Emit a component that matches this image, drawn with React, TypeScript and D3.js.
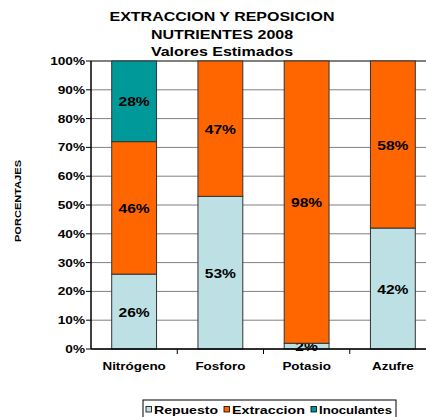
import React from "react";
import * as d3 from "d3";

const categories = ["Nitrógeno", "Fosforo", "Potasio", "Azufre"];
const seriesNames = ["Repuesto", "Extraccion", "Inoculantes"];
const repuesto = [26, 53, 2, 42];
const extraccion = [46, 47, 98, 58];
const inoculantes = [28, 0, 0, 0];
const yTicks = [0, 10, 20, 30, 40, 50, 60, 70, 80, 90, 100];
const colors = ["#BCE0E3", "#FF6600", "#009999"];
const titleLines = ["EXTRACCION Y REPOSICION", "NUTRIENTES 2008", "Valores Estimados"];

const W = 426, H = 417;
const plot = { left: 91, top: 61, right: 436, bottom: 349 };
const font = "'Liberation Sans', Arial, sans-serif";

function StretchText(props: any) {
  const { children, stretch = 1.2, x, y, anchor = "start", ...rest } = props;
  return (
    <text
      transform={`translate(${x},${y}) scale(${stretch},1)`}
      textAnchor={anchor}
      fontFamily={font}
      fontWeight="bold"
      fill="#000"
      {...rest}
    >
      {children}
    </text>
  );
}

export default function App() {
  const x = d3.scaleBand<string>().domain(categories).range([plot.left, plot.right]).padding(0);
  const y = d3.scaleLinear().domain([0, 100]).range([plot.bottom, plot.top]);
  const barW = x.bandwidth() * 0.52;
  const series = [repuesto, extraccion, inoculantes];
  const rows = categories.map((c, i) => ({ cat: c, Repuesto: repuesto[i], Extraccion: extraccion[i], Inoculantes: inoculantes[i] }));
  const stack = d3.stack<any>().keys(seriesNames)(rows);
  const legendX = [146, 224, 311];
  const legendW = [64, 73, 73];

  return (
    <svg width={W} height={H} style={{ position: "absolute", left: 0, top: 0, background: "#fff" }} fontFamily={font}>
      {titleLines.map((t, i) => (
        <StretchText key={i} x={222} y={21 + i * 17.5} anchor="middle" fontSize={12.5} stretch={1.28}>{t}</StretchText>
      ))}
      {yTicks.map((t) => (
        <line key={t} x1={plot.left} x2={plot.right} y1={y(t)} y2={y(t)} stroke={t === 100 ? "#000" : "#808080"} strokeWidth={1} />
      ))}
      {stack.map((s, si) =>
        s.map((d, i) => {
          const v = series[si][i];
          if (!v) return null;
          const cx = (x(categories[i]) as number) + x.bandwidth() / 2;
          return (
            <g key={si + "-" + i}>
              <rect x={cx - barW / 2} y={y(d[1])} width={barW} height={y(d[0]) - y(d[1])} fill={colors[si]} stroke="#333" strokeWidth={1} />
              <StretchText x={cx} y={(y(d[0]) + y(d[1])) / 2 + 5} anchor="middle" fontSize={13} stretch={1.2}>{v}%</StretchText>
            </g>
          );
        })
      )}
      <line x1={plot.left} x2={plot.left} y1={plot.top} y2={plot.bottom} stroke="#000" strokeWidth={1.5} />
      <line x1={plot.left} x2={plot.right} y1={plot.bottom} y2={plot.bottom} stroke="#000" strokeWidth={1.5} />
      {yTicks.map((t) => (
        <g key={t}>
          <line x1={plot.left - 5} x2={plot.left} y1={y(t)} y2={y(t)} stroke="#000" />
          <StretchText x={plot.left - 6} y={y(t) + 4} anchor="end" fontSize={10.5} stretch={1.3}>{t}%</StretchText>
        </g>
      ))}
      {categories.map((c, i) => (
        <g key={c}>
          {i > 0 && <line x1={x(c) as number} x2={x(c) as number} y1={plot.bottom} y2={plot.bottom + 5} stroke="#000" />}
          <StretchText x={(x(c) as number) + x.bandwidth() / 2} y={370} anchor="middle" fontSize={10.5} stretch={1.28}>{c}</StretchText>
        </g>
      ))}
      <text transform={`translate(21,201) rotate(-90)`} textAnchor="middle" fontWeight="bold" fontSize={8.5} textLength={82} lengthAdjust="spacingAndGlyphs" fill="#000">PORCENTAJES</text>
      <rect x={143} y={400} width={253} height={20} fill="#fff" stroke="#000" strokeWidth={1} />
      {seriesNames.map((n, i) => (
        <g key={n}>
          <rect x={legendX[i]} y={406.5} width={5.5} height={5.5} fill={colors[i]} stroke="#000" strokeWidth={0.8} />
          <text x={legendX[i] + 8} y={413.5} fontSize={10.5} fontWeight="bold" fill="#000" textLength={legendW[i]} lengthAdjust="spacingAndGlyphs">{n}</text>
        </g>
      ))}
    </svg>
  );
}
